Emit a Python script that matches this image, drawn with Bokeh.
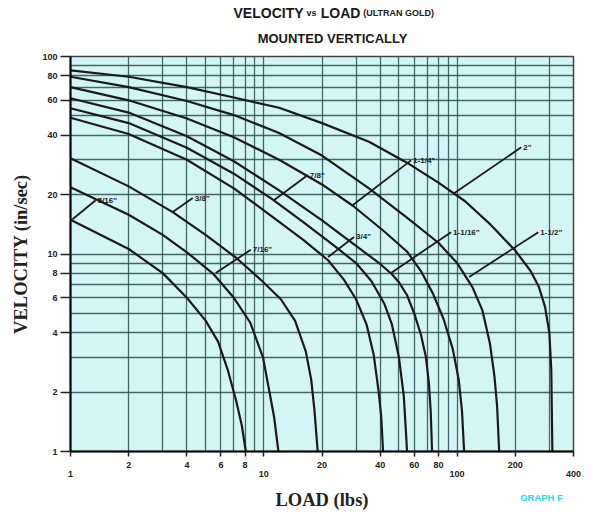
from bokeh.plotting import figure
from bokeh.models import FixedTicker, Range1d, PrintfTickFormatter, LogAxis
from bokeh.embed import file_html
from bokeh.resources import INLINE
from bokeh.core.properties import value

# ---- data ----
load_5_16 = [1, 2, 3, 4, 5, 5.8, 6.5, 7.2, 7.7, 8.07]
vel_5_16 = [14.9, 10.6, 8.0, 6.0, 4.6, 3.6, 2.6, 1.8, 1.35, 1.0]

load_c2 = [1, 2, 3, 4, 5.5, 7, 8.5, 9.9, 10.6, 11.3, 11.9]
vel_c2 = [21.8, 15.8, 12.5, 10.2, 7.9, 6.0, 4.5, 3.0, 2.1, 1.5, 1.0]

load_c3 = [1, 2, 3.38, 5, 7.16, 9.65, 12.25, 14.5, 16.5, 17.6, 18.3, 19.0]
vel_c3 = [30.5, 22, 16.3, 12.5, 9.6, 7.4, 5.9, 4.6, 3.2, 2.3, 1.6, 1.0]

load_3_4 = [1, 2, 4, 7, 11, 16, 21.5, 26, 30, 34, 37, 39.3, 40.5, 41.4]
vel_3_4 = [49, 40.5, 30, 21.5, 15.5, 11.8, 9.3, 7.4, 5.9, 4.4, 3.1, 2.0, 1.5, 1.0]

load_7_8 = [1, 2, 4, 7, 11, 16, 24, 30, 36, 42, 46, 50, 53, 55.1]
vel_7_8 = [54.7, 46, 34.5, 25.5, 19, 14.5, 10.7, 9.0, 7.3, 5.6, 4.4, 3.0, 1.9, 1.0]

load_1_1_16 = [1, 2, 4, 7, 12, 20, 30, 40, 46, 50, 55, 60, 65, 69, 71.5, 73, 74.2]
vel_1_1_16 = [61.5, 52, 39.5, 29.5, 21, 14.8, 11, 8.9, 7.9, 7.2, 6.2, 5.0, 3.9, 3.0, 2.2, 1.6, 1.0]

load_1_1_4 = [1, 2, 4, 7, 12, 20, 29, 42, 55, 65, 75, 85, 95, 102, 106, 108.7]
vel_1_1_4 = [70, 60, 48.5, 39, 30, 22.5, 17.5, 13, 10.3, 8.2, 6.3, 4.7, 3.3, 2.3, 1.6, 1.0]

load_1_1_2 = [1, 2, 4, 7, 12, 20, 35, 55, 80, 100, 120, 135, 148, 156, 161, 165]
vel_1_1_2 = [79, 70, 59.5, 50.5, 41, 31.5, 21.5, 15.3, 11.4, 9.0, 6.8, 5.2, 3.5, 2.4, 1.7, 1.0]

load_2 = [1, 2, 4, 7, 12, 20, 35, 55, 80, 110, 150, 200, 240, 265, 285, 300, 307, 311]
vel_2 = [85, 79, 70, 62, 55, 46, 37, 29, 23, 18.5, 14, 10.4, 8.2, 6.8, 5.4, 4.0, 2.6, 1.0]

curves = [
    (load_5_16, vel_5_16), (load_c2, vel_c2), (load_c3, vel_c3),
    (load_3_4, vel_3_4), (load_7_8, vel_7_8), (load_1_1_16, vel_1_1_16),
    (load_1_1_4, vel_1_1_4), (load_1_1_2, vel_1_1_2), (load_2, vel_2),
]

# leader lines: from curve point (lo) up to the label (hi)
lead_labels = ['5/16"', '3/8"', '7/16"', '7/8"', '3/4"', '1-1/4"', '1-1/16"', '2"', '1-1/2"']
lead_x0 = [1.024, 3.38, 5.64, 11.27, 21.5, 28.9, 45.5, 96.5, 115.4]
lead_y0 = [15.0, 16.3, 8.02, 18.7, 9.66, 17.7, 8.02, 20.3, 7.65]
lead_x1 = [1.35, 4.29, 8.56, 16.9, 29.3, 57.8, 93.1, 214.6, 263]
lead_y1 = [18.7, 19.2, 10.5, 25.1, 12.2, 29.8, 12.9, 34.7, 12.9]

x_grid = [1, 2, 3, 4, 5, 6, 7, 8, 9, 10, 20, 30, 40, 50, 60, 70, 80, 90, 100, 200, 300, 400]
y_grid = [1, 2, 3, 4, 5, 6, 7, 8, 9, 10, 20, 30, 40, 50, 60, 70, 80, 90, 100]
x_ticks = [1, 2, 4, 6, 8, 10, 20, 40, 60, 80, 100, 200, 400]
x_low_ticks = [1, 10, 100, 400]
y_ticks = [1, 2, 4, 6, 8, 10, 20, 40, 60, 80, 100]

# text placed along the x scale (outside the frame), anchored at these loads
title_big = ["VELOCITY", "LOAD"]
title_big_at = [10.58, 24.94]
title_small = ["vs", "(ULTRAN GOLD)"]
title_small_at = [17.65, 49.8]
subtitle = ["MOUNTED VERTICALLY"]
subtitle_at = [22.67]
tag = ["GRAPH F"]
tag_at = [273.3]

SANS = "Liberation Sans"
SERIF = "Liberation Serif"
INK = "#1a1a1a"

p = figure(width=590, height=512, x_axis_type="log", y_axis_type="log",
           x_range=Range1d(1, 400), y_range=Range1d(1, 100),
           output_backend="svg", toolbar_location=None,
           min_border_left=70, min_border_right=17, min_border_top=56, min_border_bottom=60)

p.background_fill_color = "#d4f5f5"
p.border_fill_color = "white"
p.outline_line_color = "#444444"
p.outline_line_width = 1.5

for g, t in ((p.xgrid, x_grid), (p.ygrid, y_grid)):
    g.ticker = FixedTicker(ticks=t)
    g.grid_line_color = "#264f4f"
    g.grid_line_width = 1.3
    g.grid_line_alpha = 0.85

p.xaxis.ticker = FixedTicker(ticks=x_ticks)
p.xaxis.formatter = PrintfTickFormatter(format="%d")
p.xaxis.major_label_overrides = {t: "" for t in x_low_ticks}
p.yaxis.ticker = FixedTicker(ticks=y_ticks)
p.yaxis.formatter = PrintfTickFormatter(format="%d")

for ax in (p.xaxis, p.yaxis):
    ax.axis_line_color = "black"
    ax.axis_line_width = 2
    ax.major_tick_line_color = "#222222"
    ax.major_tick_line_width = 1.5
    ax.minor_tick_line_color = None
    ax.major_tick_in = 0
    ax.major_label_text_font = SANS
    ax.major_label_text_font_style = "bold"
    ax.major_label_text_font_size = "9px"
    ax.major_label_text_color = "#222222"

p.xaxis.major_tick_out = 5
p.xaxis.major_label_standoff = 5
p.yaxis.major_tick_out = 10
p.yaxis.major_label_standoff = 3

p.yaxis.axis_label = "VELOCITY (in/sec)"
p.yaxis.axis_label_text_font = SERIF
p.yaxis.axis_label_text_font_style = "bold"
p.yaxis.axis_label_text_font_size = "18.5px"
p.yaxis.axis_label_text_color = "#222222"
p.yaxis.axis_label_standoff = 8


def text_axis(ticks, labels, font, size, color, standoff):
    ax = LogAxis(ticker=FixedTicker(ticks=ticks),
                 major_label_overrides={t: s for t, s in zip(ticks, labels)})
    ax.axis_line_color = None
    ax.major_tick_line_color = None
    ax.minor_tick_line_color = None
    ax.major_tick_out = 0
    ax.major_tick_in = 0
    ax.major_label_standoff = standoff
    ax.major_label_text_font = font
    ax.major_label_text_font_style = "bold"
    ax.major_label_text_font_size = size
    ax.major_label_text_color = color
    return ax


# lower row of x labels (1, 10, 100, 400)
ax2 = text_axis(x_low_ticks, [str(t) for t in x_low_ticks], SANS, "9px", "#222222", 0)
p.add_layout(ax2, "below")

# graph tag + axis title on the same line
ax3 = text_axis(tag_at, tag, SANS, "9.5px", "#22dcee", 12)
ax3.axis_label = "LOAD (lbs)"
ax3.axis_label_text_font = SERIF
ax3.axis_label_text_font_style = "bold"
ax3.axis_label_text_font_size = "18.5px"
ax3.axis_label_text_color = "#222222"
ax3.axis_label_standoff = -16
p.add_layout(ax3, "below")

# titles (stacked above the frame, outward)
p.add_layout(text_axis(subtitle_at, subtitle, SANS, "13px", INK, 11), "above")
p.add_layout(text_axis(title_big_at, title_big, SANS, "14px", INK, 7), "above")
p.add_layout(text_axis(title_small_at, title_small, SANS, "9px", INK, -16), "above")

for (lx, ly) in curves:
    p.line(lx, ly, line_color=INK, line_width=2.2)

p.segment(x0=lead_x0, y0=lead_y0, x1=lead_x1, y1=lead_y1, line_color=INK, line_width=1.8)
p.text(x=lead_x1, y=lead_y1, text=lead_labels, x_offset=2,
       text_font=value(SANS), text_font_style="bold", text_font_size="8px",
       text_baseline="middle", text_align="left", text_color=INK)

open("out.html", "w").write(file_html(p, INLINE))
